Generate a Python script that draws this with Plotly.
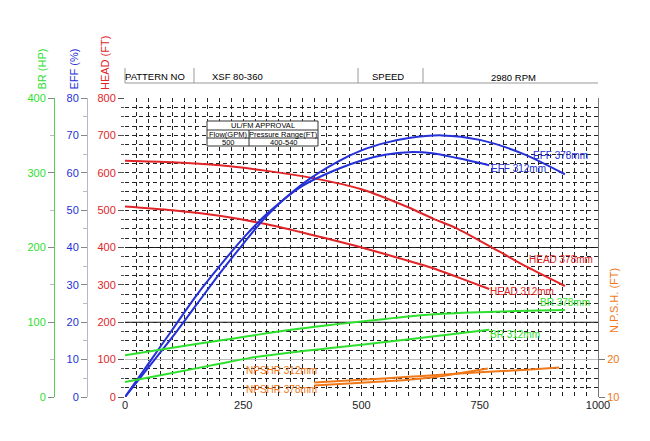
import plotly.graph_objects as go

# ---------------- data ----------------
head378_q = [0, 100, 200, 300, 400, 500, 600, 650, 700, 790, 850, 930]
head378_h = [632, 628, 620, 605, 585, 556, 507, 478, 452, 390, 348, 297]

head312_q = [0, 100, 200, 300, 400, 500, 600, 650, 700, 770]
head312_h = [510, 500, 485, 462, 432, 400, 364, 345, 322, 289]

eff378_q = [0, 50, 100, 150, 200, 250, 300, 375, 450, 500, 550, 600, 670, 750, 843, 930]
eff378_e = [0, 8, 16, 24.5, 33, 41, 48.5, 57, 63, 66, 68, 69.3, 70, 68.8, 65, 59.6]

eff312_q = [0, 50, 100, 150, 200, 250, 300, 375, 450, 500, 550, 600, 650, 700, 770]
eff312_e = [0, 9, 18, 27, 35, 42.5, 49, 56.5, 61, 63.3, 64.8, 65.5, 65.2, 64, 62]

br378_q = [0, 100, 200, 262, 350, 450, 550, 647, 750, 850, 930]
br378_p = [56, 66, 75.5, 81.5, 90, 97.5, 104.5, 110.5, 113.5, 115.3, 116.5]

br312_q = [0, 100, 200, 262, 350, 450, 550, 650, 770]
br312_p = [20, 32, 44.5, 52, 59.5, 66.5, 73.5, 81, 90]

npsh378_q = [400, 500, 600, 660, 750, 850, 918]
npsh378_n = [13.9, 14.6, 15.4, 15.9, 16.6, 17.3, 17.9]

npsh312_q = [400, 500, 600, 660, 700, 767]
npsh312_n = [13.1, 13.8, 14.6, 15.4, 16.2, 17.6]

x_ticks = [0, 250, 500, 750, 1000]
head_ticks = [0, 100, 200, 300, 400, 500, 600, 700, 800]
eff_ticks = [0, 10, 20, 30, 40, 50, 60, 70, 80]
br_ticks = [0, 100, 200, 300, 400]
npsh_ticks = [10, 20]

header_texts = ["PATTERN NO", "XSF 80-360", "SPEED", "2980 RPM"]
table_texts = ["UL/FM APPROVAL", "Flow(GPM)", "Pressure Range(FT)", "500", "400-540"]

# ---------------- styles ----------------
RED = "#e02428"
BLUE = "#2430d8"
GREEN = "#2ee02e"
ORANGE = "#f07818"
FONT = "Liberation Sans, Arial, sans-serif"

fig = go.Figure()

def add(q, v, axis, color, name):
    fig.add_trace(go.Scatter(x=q, y=v, yaxis=axis, mode="lines", name=name,
                             line=dict(color=color, width=2, shape="spline", smoothing=0.8),
                             showlegend=False, hoverinfo="skip"))

add(head378_q, head378_h, "y", RED, "HEAD 378mm")
add(head312_q, head312_h, "y", RED, "HEAD 312mm")
add(eff378_q, eff378_e, "y2", BLUE, "EFF 378mm")
add(eff312_q, eff312_e, "y2", BLUE, "EFF 312mm")
add(br378_q, br378_p, "y3", GREEN, "BR 378mm")
add(br312_q, br312_p, "y3", GREEN, "BR 312mm")
add(npsh378_q, npsh378_n, "y4", ORANGE, "NPSHR 378mm")
add(npsh312_q, npsh312_n, "y4", ORANGE, "NPSHR 312mm")

# page offset of the figure inside the html page
OFF = 7
W, H = 643, 434
PL, PR, PT, PB = 124, 597, 97, 396          # plot area in page pixels
L = 23
R = W - (PR - OFF)
T = PT - OFF
B = H - (PB - OFF)
PW = W - L - R
PH = H - T - B

def px(xp):
    return (xp - OFF - L) / PW
def py(yp):
    return (H - B - (yp - OFF)) / PH

x0 = px(PL)

fig.update_layout(
    width=W, height=H,
    margin=dict(l=L, r=R, t=T, b=B),
    paper_bgcolor="white", plot_bgcolor="white",
    font=dict(family=FONT, size=11, color="black"),
    xaxis=dict(domain=[x0, 1], range=[0, 1000], tickvals=x_ticks, ticks="",
               showline=False, zeroline=False,
               showgrid=True, gridcolor="#222222", gridwidth=1, griddash="4px,3px",
               minor=dict(dtick=25, showgrid=True, gridcolor="#222222", gridwidth=1,
                          griddash="4px,3px"),
               tickfont=dict(size=11, color="#222")),
    yaxis=dict(range=[0, 800], tickvals=head_ticks, ticks="outside", ticklen=6,
               tickcolor="#555", showline=False, zeroline=False,
               showgrid=True, gridcolor="#222222", gridwidth=1, griddash="4px,3px",
               minor=dict(dtick=25, showgrid=True, gridcolor="#222222", gridwidth=1,
                          griddash="4px,3px", ticks="outside", ticklen=3, tickcolor="#555"),
               tickfont=dict(size=11, color=RED)),
    yaxis2=dict(range=[0, 80], tickvals=eff_ticks, overlaying="y", side="left",
                anchor="free", position=px(86), showgrid=False, zeroline=False,
                showline=True, linecolor="#b8b8c8", linewidth=1,
                ticks="outside", ticklen=6, tickcolor="#888",
                minor=dict(dtick=5, ticks="outside", ticklen=4, tickcolor="#bbb"),
                tickfont=dict(size=11, color=BLUE)),
    yaxis3=dict(range=[0, 400], tickvals=br_ticks, overlaying="y", side="left",
                anchor="free", position=px(53), showgrid=False, zeroline=False,
                showline=True, linecolor="#55cc55", linewidth=1,
                ticks="outside", ticklen=6, tickcolor="#888",
                minor=dict(dtick=50, ticks="outside", ticklen=4, tickcolor="#bbb"),
                tickfont=dict(size=11, color=GREEN)),
    yaxis4=dict(range=[10, 90], tickvals=npsh_ticks, overlaying="y", side="right",
                anchor="x", showgrid=True, gridcolor="#bdbdbd", gridwidth=1,
                zeroline=False, showline=True, linecolor="#777", linewidth=1,
                ticks="outside", ticklen=6, tickcolor="#777",
                tickfont=dict(size=11, color=ORANGE)),
)

shapes = []
# heavier reference grid lines
for hv in [200, 400]:
    shapes.append(dict(type="line", xref="x domain", yref="y", x0=0, x1=1, y0=hv, y1=hv,
                       line=dict(color="#111", width=1), layer="below"))

# header strip
hx = [124, 193, 357, 422]
shapes.append(dict(type="line", xref="paper", yref="paper", x0=px(124), x1=px(597),
                   y0=py(82), y1=py(82), line=dict(color="#999", width=1)))
for xv in hx:
    shapes.append(dict(type="line", xref="paper", yref="paper", x0=px(xv), x1=px(xv),
                       y0=py(82), y1=py(67), line=dict(color="#999", width=1)))

# UL/FM table
tx0, tx1, tsep = 206, 317, 248
ty0, ty1, ty2, ty3 = 120, 129, 137, 145
shapes.append(dict(type="rect", xref="paper", yref="paper", x0=px(tx0), x1=px(tx1),
                   y0=py(ty3), y1=py(ty0), fillcolor="white",
                   line=dict(color="#333", width=1), layer="above"))
for yv in [ty1, ty2]:
    shapes.append(dict(type="line", xref="paper", yref="paper", x0=px(tx0), x1=px(tx1),
                       y0=py(yv), y1=py(yv), line=dict(color="#333", width=1)))
shapes.append(dict(type="line", xref="paper", yref="paper", x0=px(tsep), x1=px(tsep),
                   y0=py(ty3), y1=py(ty1), line=dict(color="#333", width=1)))
fig.update_layout(shapes=shapes)

ann = []
def pa(text, xp, yp, color="black", size=10, angle=0, xanchor="center", yanchor="middle"):
    ann.append(dict(text=text, xref="paper", yref="paper", x=px(xp), y=py(yp),
                    showarrow=False, font=dict(size=size, color=color, family=FONT),
                    textangle=angle, xanchor=xanchor, yanchor=yanchor))

# axis titles
pa("HEAD (FT)", 104, 91, RED, 11, -90, yanchor="bottom")
pa("EFF (%)", 72, 91, BLUE, 11, -90, yanchor="bottom")
pa("BR (HP)", 40, 91, GREEN, 11, -90, yanchor="bottom")
pa("N.P.S.H. (FT)", 613, 300, ORANGE, 11, -90)

# header
pa(header_texts[0], 154, 75, size=9.5)
pa(header_texts[1], 236, 75, size=9.5)
pa(header_texts[2], 387, 75, size=9.5)
pa(header_texts[3], 512, 76, size=9.5)

# table texts
pa(table_texts[0], (tx0 + tx1) / 2, 124.5, size=7.5)
pa(table_texts[1], (tx0 + tsep) / 2, 133, size=7.5)
pa(table_texts[2], (tsep + tx1) / 2, 133, size=7.5)
pa(table_texts[3], (tx0 + tsep) / 2, 141, size=7.5)
pa(table_texts[4], (tsep + tx1) / 2, 141, size=7.5)

# curve labels (data coords)
def la(text, q, h, color):
    ann.append(dict(text=text, xref="x", yref="y", x=q, y=h, showarrow=False,
                    xanchor="left", yanchor="middle",
                    font=dict(size=10, color=color, family=FONT)))

la("EFF 378mm", 858, 645, BLUE)
la("EFF 312mm", 770, 612, BLUE)
la("HEAD 378mm", 850, 369, RED)
la("HEAD 312mm", 768, 283, RED)
la("BR 378mm", 873, 254, GREEN)
la("BR 312mm", 768, 168, GREEN)
la("NPSHR 312mm", 252, 72, ORANGE)
la("NPSHR 378mm", 252, 21, ORANGE)

fig.update_layout(annotations=ann)

fig.write_html("out.html")
